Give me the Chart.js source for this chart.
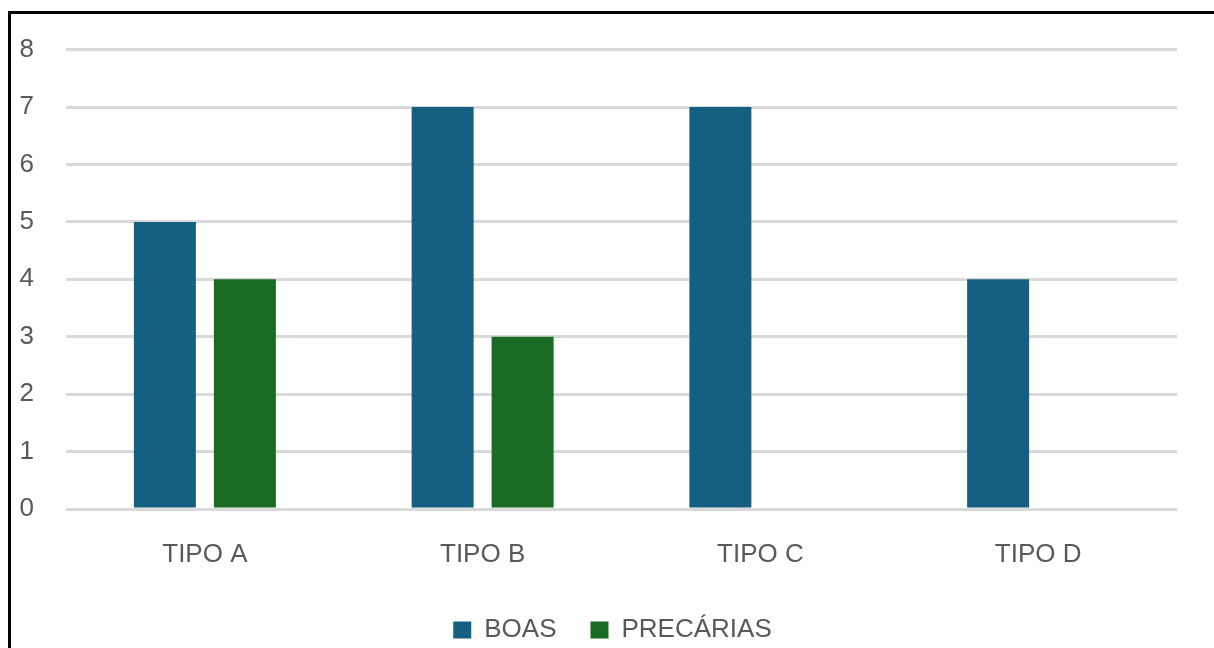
<!DOCTYPE html>
<html>
<head>
<meta charset="utf-8">
<script src="https://cdn.jsdelivr.net/npm/chart.js@4.4.1/dist/chart.umd.min.js"></script>
<style>
  html, body { margin: 0; padding: 0; background: #fff; }
  #wrap { position: absolute; left: 11px; top: 2px; width: 1203px; height: 646px; }
  #frame {
    position: absolute; left: 8px; top: 11px;
    width: 1206px; height: 637px;
    border-left: 3px solid #000; border-top: 3px solid #000;
    box-sizing: border-box; pointer-events: none; z-index: 2;
  }
</style>
</head>
<body>
<div id="wrap"><canvas id="chartBar"></canvas></div>
<div id="frame"></div>
<script>
const categorias = ["TIPO A", "TIPO B", "TIPO C", "TIPO D"];
const boas = [5, 7, 7, 4];
const precarias = [4, 3, 0, 0];
const yMax = 8;

const cinza = "#595959";
const fonte = "'Liberation Sans', Arial, sans-serif";

const data = {
  labels: categorias,
  datasets: [
    { label: "BOAS", data: boas, backgroundColor: "#156082" },
    { label: "PRECÁRIAS", data: precarias, backgroundColor: "#196B24" },
  ],
};

const configBarChart = {
  type: "bar",
  data,
  options: {
    responsive: true,
    maintainAspectRatio: false,
    animation: false,
    categoryPercentage: 0.576,
    barPercentage: 0.775,
    layout: { padding: { top: 0, right: 0, left: 0, bottom: -5 } },
    plugins: {
      tooltip: { enabled: false },
      legend: {
        position: "bottom",
        labels: { color: cinza, font: { family: fonte, size: 26 }, boxWidth: 18, boxHeight: 17, padding: 34 },
      },
    },
    scales: {
      x: {
        grid: { display: false, drawTicks: false },
        border: { display: false },
        ticks: { color: cinza, font: { family: fonte, size: 26 }, padding: 30 },
        afterFit: function (scale) { scale.height = 74; },
      },
      y: {
        min: 0, max: yMax,
        grid: { color: "#d9d9d9", lineWidth: 3, drawTicks: false },
        border: { display: false },
        ticks: { stepSize: 1, color: cinza, font: { family: fonte, size: 26 }, padding: 32 },
        afterFit: function (scale) { scale.width = 55; },
      },
      // eixo vazio à direita, só para a margem
      margem: {
        type: "linear",
        position: "right",
        grid: { display: false, drawTicks: false },
        border: { display: false },
        ticks: { display: false },
        afterFit: function (scale) { scale.width = 37; },
      },
    },
  },
};

var chartBar = new Chart(document.getElementById("chartBar"), configBarChart);
</script>
</body>
</html>
